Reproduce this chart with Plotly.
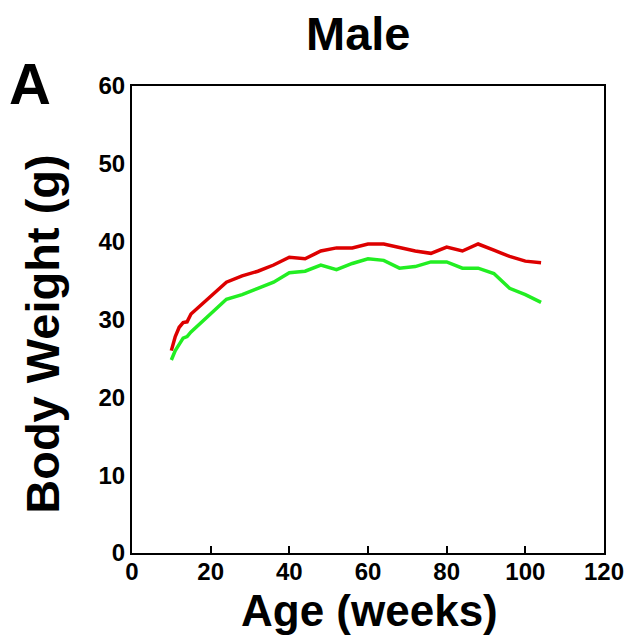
import plotly.graph_objects as go

weeks = [10, 11, 12, 13, 14, 15, 24, 28, 32, 36, 40, 44, 48, 52, 56, 60, 64, 68, 72, 76, 80, 84, 88, 92, 96, 100, 104]
red_bw = [26.0, 27.8, 29.0, 29.6, 29.7, 30.7, 34.8, 35.6, 36.2, 37.0, 38.0, 37.8, 38.8, 39.2, 39.2, 39.7, 39.7, 39.2, 38.8, 38.5, 39.3, 38.8, 39.7, 38.9, 38.1, 37.5, 37.3]
green_bw = [24.8, 26.0, 26.8, 27.6, 27.8, 28.4, 32.6, 33.2, 34.0, 34.8, 36.0, 36.2, 37.0, 36.4, 37.2, 37.8, 37.6, 36.6, 36.8, 37.4, 37.4, 36.6, 36.6, 35.9, 34.0, 33.2, 32.2]
x_ticks = [0, 20, 40, 60, 80, 100, 120]
y_ticks = [0, 10, 20, 30, 40, 50, 60]

FONT = "Liberation Sans"
L, R, T, B = 132, 608, 86, 553  # plot area in pixels


def px(xp):
    return (xp - L) / (R - L)


def py(yp):
    return (B - yp) / (B - T)


bold = lambda s: dict(size=s, family=FONT, weight="bold", color="black")

fig = go.Figure()
fig.add_trace(go.Scatter(x=weeks, y=red_bw, mode="lines",
                         line=dict(color="#dd0000", width=3.5), showlegend=False))
fig.add_trace(go.Scatter(x=weeks, y=green_bw, mode="lines",
                         line=dict(color="#22ee22", width=3.5), showlegend=False))

fig.update_layout(
    width=636, height=638,
    margin=dict(l=L, r=636 - R, t=T, b=638 - B),
    paper_bgcolor="white", plot_bgcolor="white",
    font=dict(family=FONT, color="black"),
    xaxis=dict(range=[0, 120], tickvals=x_ticks, ticks="inside", ticklen=7, tickwidth=1.5,
               tickcolor="black", showline=True, linecolor="black", linewidth=2, mirror=True,
               showgrid=False, zeroline=False, tickfont=bold(24), ticklabelstandoff=-4),
    yaxis=dict(range=[0, 60], tickvals=y_ticks, ticks="", showline=True, linecolor="black",
               linewidth=2, mirror=True, showgrid=False, zeroline=False, tickfont=bold(24)),
    annotations=[
        dict(text="Male", x=px(360), y=py(33), xref="paper", yref="paper",
             xanchor="center", yanchor="middle", showarrow=False, font=bold(47)),
        dict(text="A", x=px(29), y=py(84), xref="paper", yref="paper",
             xanchor="center", yanchor="middle", showarrow=False, font=bold(58)),
        dict(text="Age (weeks)", x=px(372), y=py(610), xref="paper", yref="paper",
             xanchor="center", yanchor="middle", showarrow=False, font=bold(44)),
        dict(text="Body Weight (g)", x=px(41), y=py(334), xref="paper", yref="paper",
             xanchor="center", yanchor="middle", showarrow=False, textangle=-90, font=bold(47)),
    ],
)
fig.write_html("out.html")
